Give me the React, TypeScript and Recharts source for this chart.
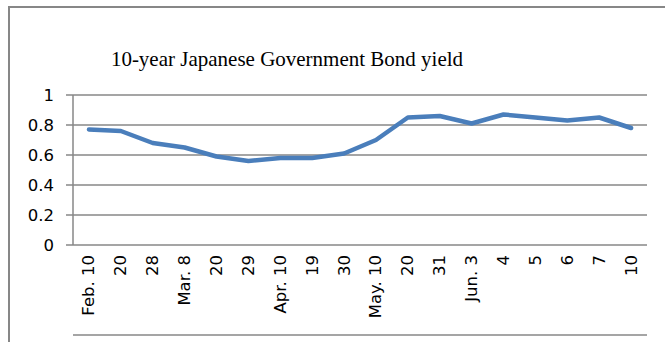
import React from 'react';
import { LineChart, Line, XAxis, YAxis, CartesianGrid } from 'recharts';

const dates = [
  'Feb. 10', '20', '28', 'Mar. 8', '20', '29', 'Apr. 10', '19', '30',
  'May. 10', '20', '31', 'Jun. 3', '4', '5', '6', '7', '10',
];
const yields = [
  0.77, 0.76, 0.68, 0.65, 0.59, 0.56, 0.58, 0.58, 0.61,
  0.7, 0.85, 0.86, 0.81, 0.87, 0.85, 0.83, 0.85, 0.78,
];
const yTicks = [0, 0.2, 0.4, 0.6, 0.8, 1];

const data = dates.map((d, i) => ({ key: i, date: d, value: yields[i] }));
const edgeTicks = dates.map((_, i) => i).concat(dates.length);

const GRAY = '#878787';
const FONT = "'DejaVu Sans', sans-serif";

const DateTick = ({ x, y, payload }: any) => (
  <text
    x={x}
    y={y}
    transform={`rotate(-90 ${x} ${y})`}
    textAnchor="end"
    dominantBaseline="central"
    fontFamily={FONT}
    fontSize={16.5}
    fill="#000"
  >
    {dates[payload.value]}
  </text>
);

const App: React.FC = () => {
  return (
    <div style={{ position: 'absolute', left: 0, top: 0, width: 665, height: 342, overflow: 'hidden', background: '#fff' }}>
      <div
        style={{
          position: 'absolute', left: 8, top: 6, width: 657, height: 336,
          borderTop: `2px solid ${GRAY}`, borderLeft: `2px solid ${GRAY}`, boxSizing: 'border-box',
        }}
      />
      <div
        style={{
          position: 'absolute', left: 0, top: 47, width: 574, textAlign: 'center',
          fontFamily: "'Liberation Serif', 'Times New Roman', serif", fontSize: 21, lineHeight: '24px', color: '#000',
        }}
      >
        10-year Japanese Government Bond yield
      </div>
      <div style={{ position: 'absolute', left: 0, top: 0 }}>
        <LineChart width={665} height={342} data={data} margin={{ top: 95, right: 18, bottom: 0, left: 0 }}>
          <CartesianGrid vertical={false} stroke={GRAY} strokeWidth={1.5} yAxisId="y" xAxisId="cat" />
          <XAxis
            xAxisId="edges"
            type="number"
            domain={[0, dates.length]}
            ticks={edgeTicks}
            allowDataOverflow
            height={7}
            tick={false}
            tickSize={7}
            stroke={GRAY}
            strokeWidth={1.5}
          />
          <XAxis
            xAxisId="cat"
            dataKey="key"
            type="category"
            scale="band"
            height={90}
            axisLine={false}
            tickLine={false}
            tickSize={0}
            tickMargin={10}
            interval={0}
            tick={<DateTick />}
          />
          <YAxis
            yAxisId="y"
            width={73}
            domain={[0, 1]}
            ticks={yTicks}
            tickSize={7}
            tickMargin={12}
            stroke={GRAY}
            strokeWidth={1.5}
            tick={{ fill: '#000', fontFamily: FONT, fontSize: 16.5 }}
          />
          <Line
            xAxisId="cat"
            yAxisId="y"
            dataKey="value"
            type="linear"
            stroke="#4A7EBB"
            strokeWidth={4.5}
            strokeLinecap="round"
            strokeLinejoin="round"
            dot={false}
            isAnimationActive={false}
          />
        </LineChart>
      </div>
    </div>
  );
};

export default App;
